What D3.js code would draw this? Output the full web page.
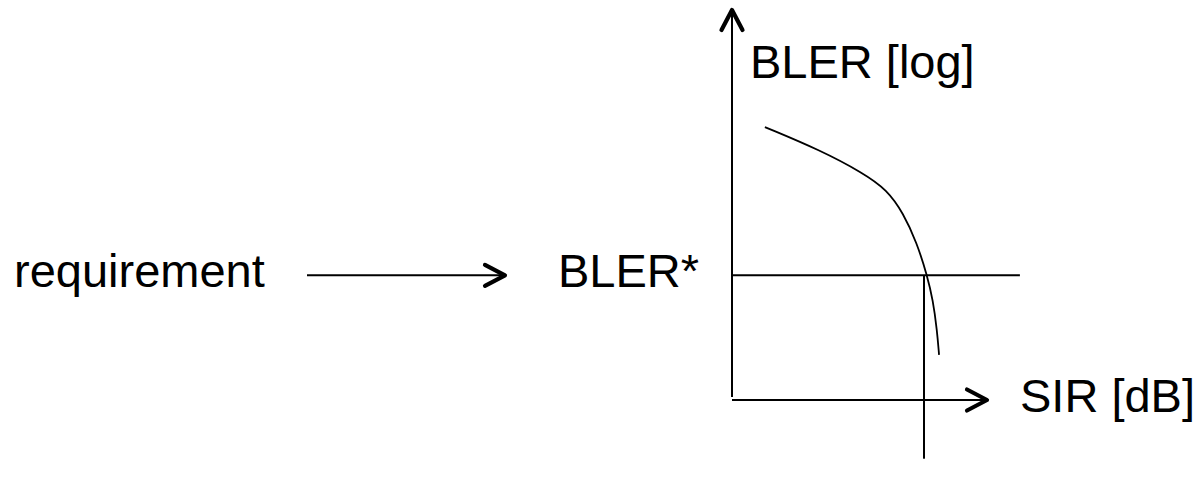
<!DOCTYPE html>
<html>
<head>
<meta charset="utf-8">
<script src="https://cdn.jsdelivr.net/npm/d3@7"></script>
<style>
    body { margin: 0; background: #ffffff; }
    svg { display: block; }
    text { font-family: "Liberation Sans", Arial, sans-serif; font-size: 47px; fill: #000; }
</style>
</head>
<body>
<div id="chart"></div>
<script>
    // BLER vs SIR curve (SIR in arbitrary dB units, BLER on log scale)
    var sirValues  = [1.29, 3.45, 5.14, 6.08, 6.71, 7.25, 7.65, 7.88, 8.04, 8.12];
    var blerValues = [0.063, 0.0366, 0.0213, 0.0143, 0.0083, 0.0041, 0.0019, 0.00106, 0.00052, 0.00029];

    // operating point
    var blerTarget = [0.0019];
    var sirTarget = [7.53];

    // axis extents and guide line ends
    var sirExtent = [0, 10];
    var blerExtent = [0.0001, 1];
    var targetLineEnd = [11.29];
    var sirLineBottom = [0.000025];

    var labels = ["BLER [log]", "SIR [dB]", "BLER*", "requirement"];

    var width = 1199,
        height = 481;

    var x = d3.scaleLinear().domain(sirExtent).range([732, 987]);
    var y = d3.scaleLog().domain(blerExtent).range([400, 10]);

    var svg = d3.select("#chart")
        .append("svg")
        .attr("width", width)
        .attr("height", height);

    // open chevron arrow heads
    svg.append("defs").append("marker")
        .attr("id", "head")
        .attr("viewBox", "-26 -15 30 30")
        .attr("refX", 0)
        .attr("refY", 0)
        .attr("markerUnits", "userSpaceOnUse")
        .attr("markerWidth", 30)
        .attr("markerHeight", 30)
        .attr("orient", "auto")
        .append("path")
        .attr("d", "M-20,-10.5L0,0L-20,10.5")
        .attr("fill", "none")
        .attr("stroke", "#000")
        .attr("stroke-width", 4.2)
        .attr("stroke-linecap", "round")
        .attr("stroke-linejoin", "round");

    var g = svg.append("g").attr("fill", "none").attr("stroke", "#000");

    // y axis (BLER)
    g.append("line")
        .attr("x1", x(sirExtent[0])).attr("y1", y(blerExtent[0]) - 3)
        .attr("x2", x(sirExtent[0])).attr("y2", y(blerExtent[1]))
        .attr("stroke-width", 2)
        .attr("marker-end", "url(#head)");

    // x axis (SIR)
    g.append("line")
        .attr("x1", x(sirExtent[0])).attr("y1", y(blerExtent[0]))
        .attr("x2", x(sirExtent[1])).attr("y2", y(blerExtent[0]))
        .attr("stroke-width", 2)
        .attr("marker-end", "url(#head)");

    // BLER* horizontal line
    g.append("line")
        .attr("x1", x(sirExtent[0])).attr("y1", y(blerTarget[0]))
        .attr("x2", x(targetLineEnd[0])).attr("y2", y(blerTarget[0]))
        .attr("stroke-width", 2);

    // SIR* vertical line
    g.append("line")
        .attr("x1", x(sirTarget[0])).attr("y1", y(blerTarget[0]))
        .attr("x2", x(sirTarget[0])).attr("y2", y(sirLineBottom[0]))
        .attr("stroke-width", 2);

    // BLER curve
    var curve = d3.line()
        .x(function (d) { return x(d[0]); })
        .y(function (d) { return y(d[1]); })
        .curve(d3.curveBasis);

    g.append("path")
        .datum(d3.zip(sirValues, blerValues))
        .attr("d", curve)
        .attr("stroke-width", 1.8);

    // requirement arrow, drawn at the BLER* level
    g.append("line")
        .attr("x1", 307).attr("y1", y(blerTarget[0]))
        .attr("x2", 505).attr("y2", y(blerTarget[0]))
        .attr("stroke-width", 2)
        .attr("marker-end", "url(#head)");

    // texts
    svg.append("text").attr("x", 750).attr("y", 78).text(labels[0]);
    svg.append("text").attr("x", 1020).attr("y", 412).text(labels[1]);
    svg.append("text").attr("x", 558).attr("y", 287).text(labels[2]);
    svg.append("text").attr("x", 14).attr("y", 287).text(labels[3]);
</script>
</body>
</html>
